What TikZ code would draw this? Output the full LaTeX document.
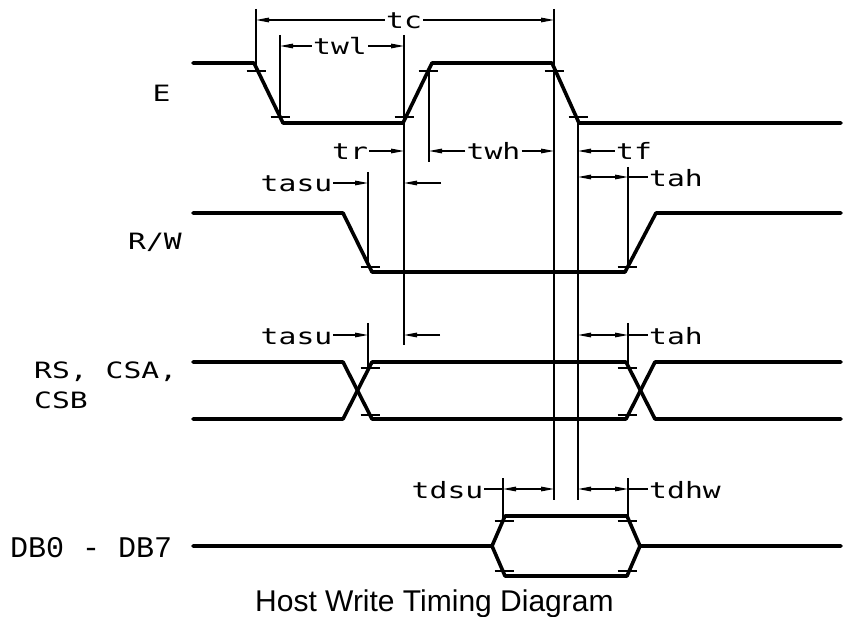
\documentclass[tikz,border=0pt]{standalone}
\usepackage{fontspec}
\setmainfont{Liberation Sans}
\newfontfamily\cadfont[FakeStretch=1.32]{DejaVu Sans Mono}
\newfontfamily\dbfont{Liberation Mono}
\usetikzlibrary{arrows.meta}
\begin{document}
\begin{tikzpicture}[x=1pt,y=-1pt,
  sig/.style={line width=3.6pt,line join=round,line cap=round},
  dim/.style={line width=1.2pt},
  tk/.style={line width=1.2pt},
  lab/.style={font=\cadfont\fontsize{22.5}{26}\selectfont,inner sep=0pt,inner xsep=1pt},
  arr/.style={dim,-{Triangle[length=13pt,width=4.6pt]}},
  darr/.style={dim,{Triangle[length=13pt,width=4.6pt]}-{Triangle[length=13pt,width=4.6pt]}}]
\useasboundingbox (0,0) rectangle (843,617);
% ---- reference coordinates
\foreach \v in {256,280,368,404,429,503,554,578,628} {\coordinate (v\v) at (\v,0);}
\coordinate (rtc) at (0,20);
\coordinate (rtwl) at (0,46);
\coordinate (rtr) at (0,151);
\coordinate (rrwa) at (0,183);
\coordinate (rrwb) at (0,177);
\coordinate (rrs) at (0,335);
\coordinate (rdb) at (0,489);
% ---- signals
\draw[sig] (193,63) -- (254,63) -- (283,123) -- (403,123) -- (432,63) -- (552,63) -- (579,123) -- (841,123);
\draw[sig] (193,213) -- (343,213) -- (372,272) -- (625,272) -- (656,213) -- (841,213);
\draw[sig] (193,362) -- (343,362) -- (372,419) -- (626,419) -- (655,362) -- (841,362);
\draw[sig] (193,419) -- (343,419) -- (372,362) -- (626,362) -- (655,419) -- (841,419);
\draw[sig] (193,546) -- (492,546) -- (505,516) -- (627,516) -- (640,546) -- (841,546);
\draw[sig] (492,546) -- (505,576) -- (627,576) -- (640,546);
% ---- ticks
\foreach \x/\y in {256/71,428/71,554/71,280/117,404/117,578/117,
                   370/267,627/267,370/368,627/368,370/415,627/415,
                   504/521,627/521,504/571,627/571}
  {\draw[tk] (\x-9.5,\y) -- (\x+9.5,\y);}
% ---- extension lines
\draw[dim] (256,9) -- (256,71);
\draw[dim] (280,35) -- (280,117);
\draw[dim] (404,35) -- (404,345);
\draw[dim] (429,71) -- (429,162);
\draw[dim] (554,9) -- (554,500);
\draw[dim] (578,117) -- (578,500);
\draw[dim] (368,172) -- (368,267);
\draw[dim] (628,167) -- (628,267);
\draw[dim] (368,323) -- (368,368);
\draw[dim] (628,323) -- (628,368);
\draw[dim] (503,478) -- (503,521);
\draw[dim] (628,478) -- (628,521);
% ---- row labels
\node[lab,anchor=base] (lE) at (161.5,102) {E};
\node[lab,anchor=base] (lRW) at (155,250) {R/W};
\node[lab,anchor=base west] (lRS) at (33,378) {RS, CSA,};
\node[lab,anchor=base west] (lCSB) at (33,408) {CSB};
\node[font=\dbfont\fontsize{30}{34}\selectfont,inner sep=0pt,anchor=base west] (lDB) at (10,557) {DB0 - DB7};
\node[font=\fontsize{30}{34}\selectfont,inner sep=0pt,anchor=base west] (title) at (255,611) {Host Write Timing Diagram};
% ---- timing labels
\node[lab,anchor=base] (tc) at (404,29) {tc};
\node[lab,anchor=base] (twl) at (340,55) {twl};
\node[lab,anchor=base] (tr) at (350,160) {tr};
\node[lab,anchor=base] (twh) at (493.5,160) {twh};
\node[lab,anchor=base] (tf) at (634,160) {tf};
\node[lab,anchor=base] (tasua) at (296.5,192) {tasu};
\node[lab,anchor=base] (taha) at (676,186.5) {tah};
\node[lab,anchor=base] (tasub) at (296.5,344.5) {tasu};
\node[lab,anchor=base] (tahb) at (676,344.5) {tah};
\node[lab,anchor=base] (tdsu) at (447.5,498.5) {tdsu};
\node[lab,anchor=base] (tdhw) at (685,498.5) {tdhw};
\coordinate (fa) at (441,183);
\coordinate (fb) at (440,335);
% ---- dimension arrows
\draw[arr] (tc.west|-rtc) -- (v256|-rtc);
\draw[arr] (tc.east|-rtc) -- (v554|-rtc);
\draw[arr] (twl.west|-rtwl) -- (v280|-rtwl);
\draw[arr] (twl.east|-rtwl) -- (v404|-rtwl);
\draw[arr] (tr.east|-rtr) -- (v404|-rtr);
\draw[arr] (twh.west|-rtr) -- (v429|-rtr);
\draw[arr] (twh.east|-rtr) -- (v554|-rtr);
\draw[arr] (tf.west|-rtr) -- (v578|-rtr);
\draw[arr] (tasua.east|-rrwa) -- (v368|-rrwa);
\draw[arr] (fa) -- (v404|-fa);
\draw[darr] (v578|-rrwb) -- (v628|-rrwb);
\draw[dim] (v628|-rrwb) -- (taha.west|-rrwb);
\draw[arr] (tasub.east|-rrs) -- (v368|-rrs);
\draw[arr] (fb) -- (v404|-fb);
\draw[darr] (v578|-rrs) -- (v628|-rrs);
\draw[dim] (v628|-rrs) -- (tahb.west|-rrs);
\draw[dim] (tdsu.east|-rdb) -- (v503|-rdb);
\draw[darr] (v503|-rdb) -- (v554|-rdb);
\draw[darr] (v578|-rdb) -- (v628|-rdb);
\draw[dim] (v628|-rdb) -- (tdhw.west|-rdb);
\end{tikzpicture}
\end{document}
